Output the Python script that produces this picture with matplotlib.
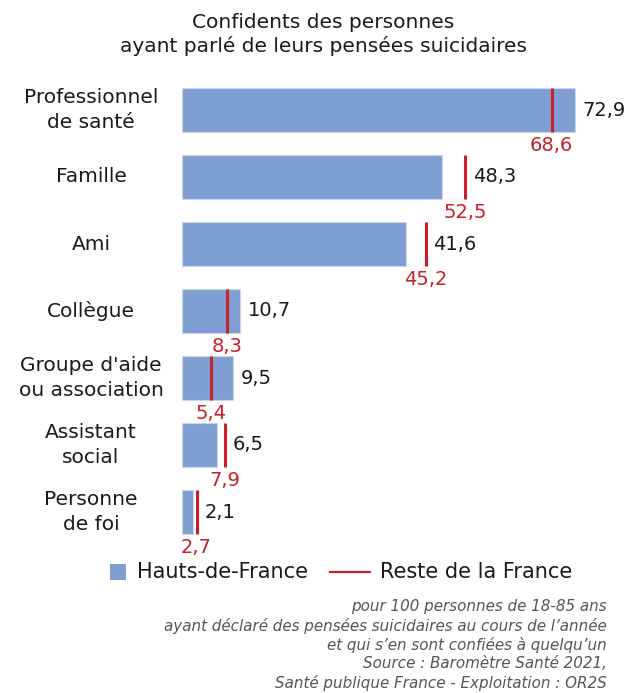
import matplotlib
matplotlib.use("Agg")
import matplotlib.pyplot as plt
from matplotlib.patches import Rectangle
from matplotlib.lines import Line2D

categories = ["Professionnel\nde santé", "Famille", "Ami", "Collègue",
              "Groupe d'aide\nou association", "Assistant\nsocial", "Personne\nde foi"]
hdf_values = [72.9, 48.3, 41.6, 10.7, 9.5, 6.5, 2.1]
rest_values = [68.6, 52.5, 45.2, 8.3, 5.4, 7.9, 2.7]
series_names = ["Hauts-de-France", "Reste de la France"]
title = "Confidents des personnes\nayant parlé de leurs pensées suicidaires"
footer = ("pour 100 personnes de 18-85 ans\n"
          "ayant déclaré des pensées suicidaires au cours de l\u2019année\n"
          "et qui s\u2019en sont confiées à quelqu\u2019un\n"
          "Source : Baromètre Santé 2021,\n"
          "Santé publique France - Exploitation : OR2S")

plt.rcParams['font.family'] = ['DejaVu Sans']
BAR = "#7f9fd3"
RED = "#c8202a"
TXT = "#1a1a1a"

W, H = 628, 693
fig = plt.figure(figsize=(W / 100, H / 100), dpi=100)
ax_left, ax_right = 182, 613
ax_top, ax_bot = 76.5, 545.5
ax = fig.add_axes([ax_left / W, 1 - ax_bot / H, (ax_right - ax_left) / W, (ax_bot - ax_top) / H])
ax.set_xlim(0, 80)
n = len(categories)
ax.set_ylim(n - 0.5, -0.5)
bh = 0.645
ys = list(range(n))
ax.barh(ys, hdf_values, height=bh, color=BAR, edgecolor="#c9d6ee", linewidth=0.8)
for i, (v, r) in enumerate(zip(hdf_values, rest_values)):
    ax.plot([r, r], [i - bh / 2, i + bh / 2], color=RED, lw=2.2, solid_capstyle='butt')
    ax.annotate(f"{v:.1f}".replace(".", ","), xy=(max(v, r), i), xytext=(8, 0),
                textcoords='offset pixels', ha='left', va='center', fontsize=14, color=TXT)
    ax.annotate(f"{r:.1f}".replace(".", ","), xy=(r, i + bh / 2), xytext=(0, -14),
                textcoords='offset pixels', ha='center', va='center', fontsize=14, color=RED)
ax.set_yticks([])
ax.set_xticks([])
for s in ax.spines.values():
    s.set_visible(False)

for i, c in enumerate(categories):
    ax.annotate(c, xy=(0, i), xycoords=('axes fraction', 'data'), xytext=(-91, 0),
                textcoords='offset pixels', ha='center', va='center', fontsize=14.5,
                color=TXT, linespacing=1.42)

fig.text(323 / W, 1 - 34.5 / H, title, ha='center', va='center', fontsize=14.5,
         color=TXT, linespacing=1.25)

# legend drawn manually in figure pixel coordinates
ly = 572
fig.add_artist(Rectangle((110 / W, 1 - 580 / H), 16 / W, 16 / H, transform=fig.transFigure,
                         facecolor=BAR, edgecolor='none'))
fig.text(137 / W, 1 - ly / H, series_names[0], ha='left', va='center', fontsize=15, color=TXT)
fig.add_artist(Line2D([330 / W, 370 / W], [1 - ly / H, 1 - ly / H], transform=fig.transFigure,
                      color=RED, lw=1.6))
fig.text(380 / W, 1 - ly / H, series_names[1], ha='left', va='center', fontsize=15, color=TXT)

fig.text(607 / W, 1 - 645 / H, footer, ha='right', va='center', fontsize=10.9,
         style='italic', color="#555555", linespacing=1.26)

fig.savefig("out.png", dpi=100)
